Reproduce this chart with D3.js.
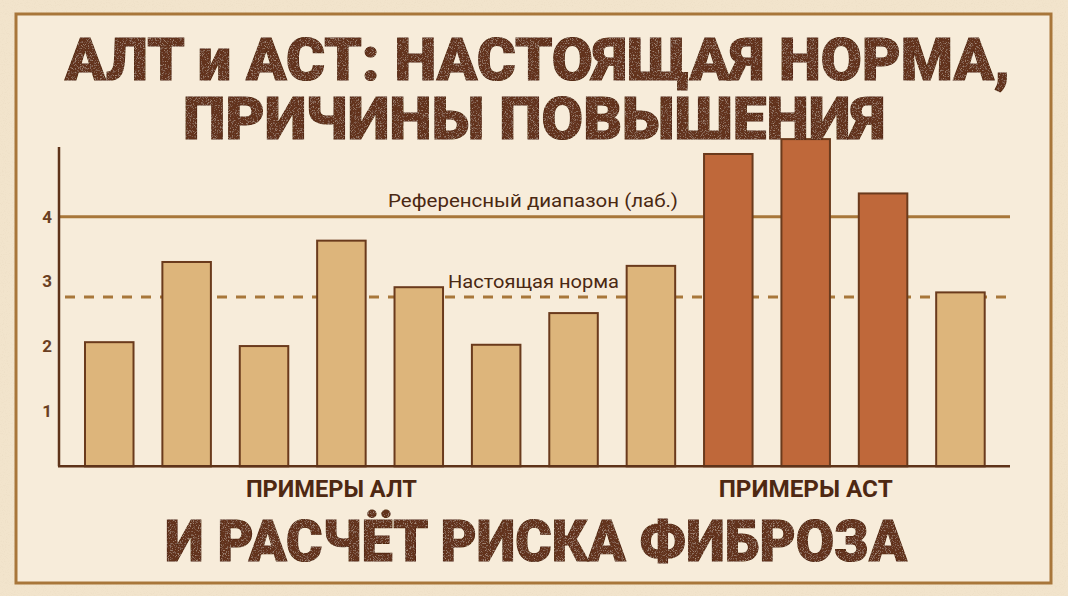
<!DOCTYPE html>
<html>
<head>
<meta charset="utf-8">
<script src="https://cdn.jsdelivr.net/npm/d3@7"></script>
<style>
  html, body { margin: 0; padding: 0; background: #F3E6CF; }
  svg { display: block; }
</style>
</head>
<body>
<svg id="chart" width="1068" height="596"></svg>
<script>
// ---------- data ----------
const categories = ["АЛТ 1", "АЛТ 2", "АЛТ 3", "АЛТ 4", "АЛТ 5", "АЛТ 6", "АЛТ 7", "АЛТ 8",
                    "АСТ 1", "АСТ 2", "АСТ 3", "АСТ 4"];
const values = [2.06, 3.30, 2.00, 3.63, 2.91, 2.02, 2.51, 3.24, 4.97, 5.20, 4.36, 2.83];
const highlighted = [false, false, false, false, false, false, false, false, true, true, true, false];
const yTicks = [1, 2, 3, 4];
const referenceValue = 4;
const trueNormValue = 2.76;
const referenceLabel = "Референсный диапазон (лаб.)";
const trueNormLabel = "Настоящая норма";
const groupLabels = ["ПРИМЕРЫ АЛТ", "ПРИМЕРЫ АСТ"];
const titleLines = ["АЛТ и АСТ: НАСТОЯЩАЯ НОРМА,", "ПРИЧИНЫ ПОВЫШЕНИЯ"];
const subtitle = "И РАСЧЁТ РИСКА ФИБРОЗА";

// ---------- setup ----------
const W = 1068, H = 596;
const svg = d3.select("#chart");
const defs = svg.append("defs");

const paper = defs.append("filter").attr("id", "paper").attr("x", 0).attr("y", 0).attr("width", "100%").attr("height", "100%");
paper.append("feTurbulence").attr("type", "fractalNoise").attr("baseFrequency", 0.9).attr("numOctaves", 2).attr("seed", 3).attr("result", "n");
paper.append("feColorMatrix").attr("in", "n").attr("type", "matrix")
  .attr("values", "0 0 0 0 0.55  0 0 0 0 0.45  0 0 0 0 0.3  0 0 0 -1.1 0.55").attr("result", "c");
paper.append("feComposite").attr("in", "c").attr("in2", "SourceGraphic").attr("operator", "in");

const grain = defs.append("filter").attr("id", "grain");
grain.append("feTurbulence").attr("type", "fractalNoise").attr("baseFrequency", 1.4).attr("numOctaves", 1).attr("seed", 7).attr("result", "n");
grain.append("feColorMatrix").attr("in", "n").attr("type", "matrix")
  .attr("values", "0 0 0 0 0.8  0 0 0 0 0.62  0 0 0 0 0.48  0 0 0 -1.6 0.75").attr("result", "c");
grain.append("feComposite").attr("in", "c").attr("in2", "SourceGraphic").attr("operator", "in").attr("result", "speck");
grain.append("feMerge").call(m => { m.append("feMergeNode").attr("in", "SourceGraphic"); m.append("feMergeNode").attr("in", "speck"); });

// background
svg.append("rect").attr("width", W).attr("height", H).attr("fill", "#F2E4CC");
svg.append("rect").attr("width", W).attr("height", H).attr("fill", "#F2E4CC").attr("filter", "url(#paper)").attr("opacity", 0.25);
svg.append("rect").attr("x", 16).attr("y", 14).attr("width", 1035).attr("height", 569)
  .attr("fill", "#F7ECDA").attr("stroke", "#A8763A").attr("stroke-width", 3);

// ---------- scales ----------
const x = d3.scaleBand().domain(categories).range([59, 1010.7]).paddingInner(0.373).paddingOuter(0.336);
const y = d3.scaleLinear().domain([0, 5]).range([475.4, 152.05]);
const axisFloor = 0.14;   // value at which the baseline sits
const axisTop = 5.08;
const baseY = y(axisFloor);

const ink = "#6A3A1C";
const gold = "#A8773A";

// reference lines (behind bars)
svg.append("line").attr("x1", 59).attr("x2", 1010).attr("y1", y(referenceValue)).attr("y2", y(referenceValue))
  .attr("stroke", gold).attr("stroke-width", 3);
svg.append("line").attr("x1", 59).attr("x2", 1010).attr("y1", y(trueNormValue)).attr("y2", y(trueNormValue))
  .attr("stroke", gold).attr("stroke-width", 3).attr("stroke-dasharray", "10 9").attr("stroke-dashoffset", -6);

// bars
svg.append("g").selectAll("rect").data(values).join("rect")
  .attr("x", (d, i) => x(categories[i]))
  .attr("width", x.bandwidth())
  .attr("y", d => y(d))
  .attr("height", d => baseY - y(d))
  .attr("fill", (d, i) => highlighted[i] ? "#BF683A" : "#DDB57B")
  .attr("stroke", ink).attr("stroke-width", 2);

// axes
svg.append("line").attr("x1", 59).attr("x2", 59).attr("y1", y(axisTop)).attr("y2", baseY)
  .attr("stroke", "#5E3319").attr("stroke-width", 2.5);
svg.append("line").attr("x1", 58).attr("x2", 1010).attr("y1", baseY).attr("y2", baseY)
  .attr("stroke", "#5E3319").attr("stroke-width", 2.5);

svg.append("g").selectAll("text").data(yTicks).join("text")
  .attr("x", 52).attr("y", d => y(d)).attr("dy", "0.35em")
  .attr("text-anchor", "end")
  .attr("font-family", "Roboto, 'Noto Sans', sans-serif").attr("font-weight", 700).attr("font-size", 17)
  .attr("fill", "#6B3F22").text(d => d);

// line labels
svg.append("text").attr("x", 388).attr("y", y(referenceValue) - 9.4)
  .attr("font-family", "Roboto, 'Noto Sans', sans-serif").attr("font-size", 19).attr("fill", "#4A2812")
  .attr("textLength", 290).attr("lengthAdjust", "spacingAndGlyphs").text(referenceLabel);
svg.append("text").attr("x", 448).attr("y", y(trueNormValue) - 9.4)
  .attr("font-family", "Roboto, 'Noto Sans', sans-serif").attr("font-size", 19).attr("fill", "#4A2812")
  .attr("textLength", 171).attr("lengthAdjust", "spacingAndGlyphs").text(trueNormLabel);

// group labels
const groupCenters = [x(categories[3]) + x.bandwidth() / 2 - 10, x(categories[9]) + x.bandwidth() / 2];
const groupWidths = [171, 174];
svg.append("g").selectAll("text").data(groupLabels).join("text")
  .attr("x", (d, i) => groupCenters[i] - groupWidths[i] / 2).attr("y", 497)
  .attr("font-family", "Roboto, 'Noto Sans', sans-serif").attr("font-weight", 700).attr("font-size", 23)
  .attr("fill", "#4E2812")
  .attr("textLength", (d, i) => groupWidths[i]).attr("lengthAdjust", "spacingAndGlyphs")
  .text(d => d);

// titles
const titleSpecs = [
  { text: titleLines[0], x: 65, y: 80, w: 945, size: 60 },
  { text: titleLines[1], x: 183, y: 139, w: 702, size: 60 },
  { text: subtitle, x: 165, y: 561, w: 742, size: 57 }
];
svg.append("g").selectAll("text").data(titleSpecs).join("text")
  .attr("x", d => d.x).attr("y", d => d.y)
  .attr("font-family", "Roboto, 'Noto Sans', sans-serif").attr("font-weight", 900)
  .attr("font-size", d => d.size)
  .attr("fill", "#62321A").attr("stroke", "#4A220E").attr("stroke-width", 1.2)
  .attr("paint-order", "stroke")
  .attr("textLength", d => d.w).attr("lengthAdjust", "spacingAndGlyphs")
  .attr("filter", "url(#grain)")
  .text(d => d.text);
</script>
</body>
</html>
